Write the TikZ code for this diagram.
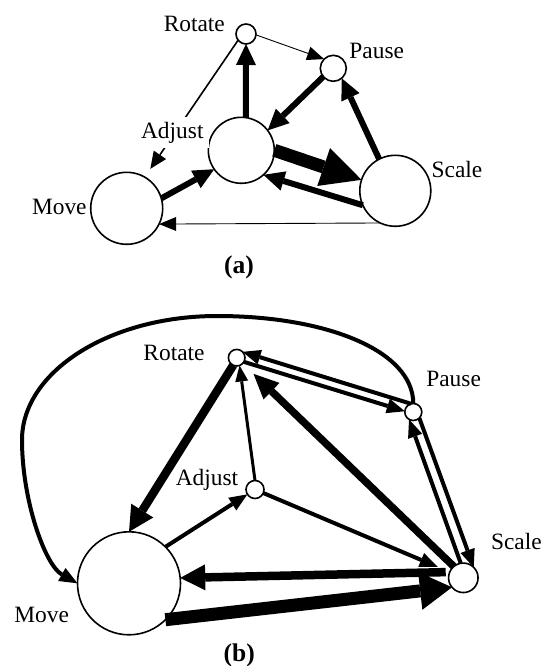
\documentclass[tikz,border=0pt]{standalone}
\usepackage{fontspec}
\setmainfont{Liberation Serif}
\usetikzlibrary{arrows.meta}
\begin{document}
\begin{tikzpicture}[x=1pt,y=-1pt,
  every node/.style={font=\fontsize{23.4}{28}\selectfont},
  st/.style={circle,draw,line width=1.6pt,fill=white,inner sep=0pt,outer sep=0pt},
  lbl/.style={inner sep=0pt,anchor=base},
  captionlbl/.style={lbl,font=\fontsize{25.5}{30}\selectfont\bfseries},
  athin/.style={line width=0.9pt,-{Triangle[length=17pt,width=14pt,line width=0pt]}},
  athinb/.style={line width=1.6pt,-{Triangle[length=17pt,width=15pt,line width=0pt]}},
  amed/.style={line width=6pt,-{Triangle[length=21pt,width=20pt,line width=0pt]}},
  ahuge/.style={line width=13pt,-{Triangle[length=40pt,width=40pt,line width=0pt]}},
  bthin/.style={line width=3pt,-{Triangle[length=16pt,width=13pt,line width=0pt]}},
  bmed/.style={line width=4pt,-{Triangle[length=18pt,width=15pt,line width=0pt]}},
  bthick/.style={line width=7.5pt,-{Triangle[length=25pt,width=23pt,line width=0pt]}},
  bthicker/.style={line width=8.5pt,-{Triangle[length=25pt,width=26pt,line width=0pt]}},
  bhuge/.style={line width=13pt,-{Triangle[length=32pt,width=38pt,line width=0pt]}}]
\useasboundingbox (0,0) rectangle (547,666);
% ---------- (a) ----------
\node[st,minimum size=20pt] (ar) at (246,34) {};
\node[st,minimum size=26pt] (ap) at (333.3,68.3) {};
\node[st,minimum size=66pt] (aa) at (241.3,150.3) {};
\node[st,minimum size=72pt] (am) at (126.7,208.3) {};
\node[st,minimum size=71pt] (as) at (395.3,190.8) {};
\draw[athin] (ar.-5) -- (ap.135);
\draw[athinb,shorten >=10pt] (ar.218) -- (am.60);
\draw[amed] (aa.82) -- (ar.south);
\draw[amed] (ap.220) -- (aa.37);
\draw[amed] (as.117) -- (ap.-50);
\draw[ahuge] (aa.0) -- (as.162);
\draw[amed] (as.204) -- (aa.-48);
\draw[amed] (am.16) -- (aa.215);
\draw[athin] (as.245) -- (am.-26);
\node[lbl] (arl) at (194.3,31.5) {Rotate};
\node[lbl] (apl) at (376.7,59) {Pause};
\node[lbl,fill=white,inner sep=5pt] (aal) at (172.3,138.3) {Adjust};
\node[lbl] (aml) at (59.3,214) {Move};
\node[lbl] (asl) at (457,177.5) {Scale};
\node[captionlbl] (acap) at (239,273) {(a)};
% ---------- (b) ----------
\node[st,minimum size=16.6pt] (br) at (236.7,357.7) {};
\node[st,minimum size=17pt] (bp) at (413.3,412) {};
\node[st,minimum size=18pt] (ba) at (255,489.5) {};
\node[st,minimum size=103pt] (bm) at (129,583.3) {};
\node[st,minimum size=29.5pt] (bs) at (463.3,577.8) {};
\draw[bmed] (bp.north) .. controls (413,350) and (325,316) .. (217,316)
  .. controls (109,316) and (22,372) .. (22,440)
  .. controls (22,500) and (45,565) .. (bm.west);
\draw[bmed] (bp.105) -- (br.45);
\draw[bmed] (br.-30) -- (bp.175);
\draw[bmed] (bs.100) -- (bp.-120);
\draw[bmed] (bp.-45) -- (bs.45);
\draw[bthicker] (br.-115) -- (bm.north);
\draw[bthin] (ba.north) -- (br.-70);
\draw[bthick,shorten >=15pt] (bs.130) -- (br);
\draw[bmed] (bm.45) -- (ba);
\draw[bmed,shorten >=13pt] (ba) -- (bs);
\draw[bthicker,shorten <=4pt] (bs.157) -- (bm.6);
\draw[bhuge] (bm.-45) -- (bs.220);
\node[lbl] (brl) at (174,360) {Rotate};
\node[lbl] (bpl) at (453.6,386) {Pause};
\node[lbl] (bal) at (207,485) {Adjust};
\node[lbl] (bml) at (41.7,622.5) {Move};
\node[lbl] (bsl) at (516.4,549) {Scale};
\node[captionlbl] (bcap) at (239.3,661.5) {(b)};
\end{tikzpicture}
\end{document}
